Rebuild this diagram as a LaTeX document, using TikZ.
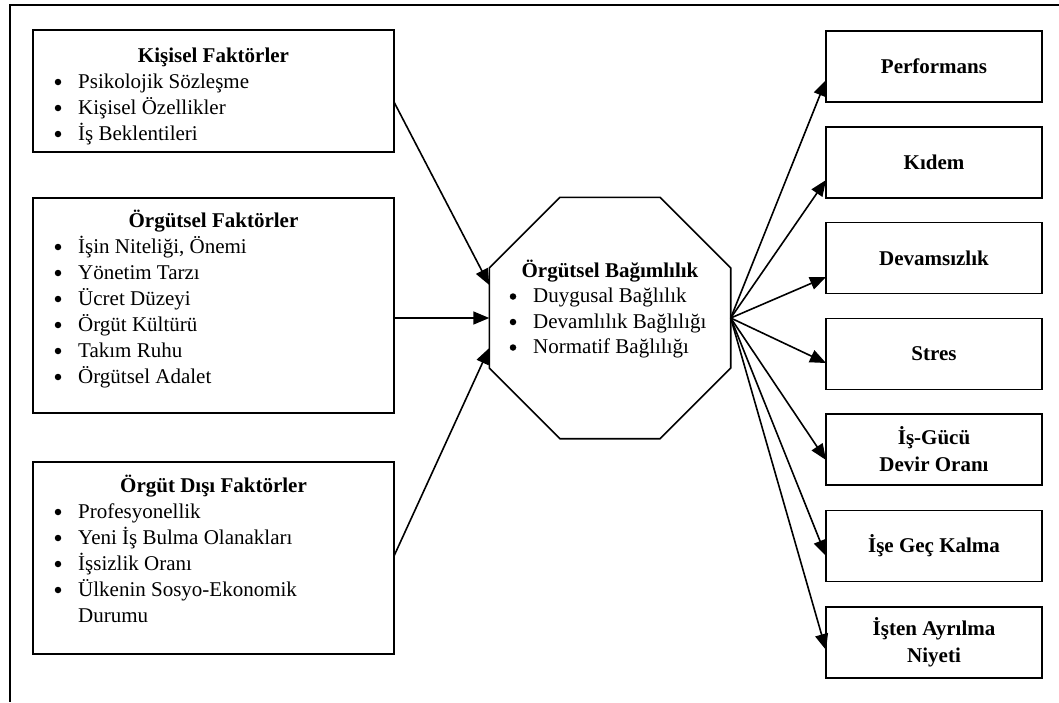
\documentclass[tikz,border=0pt]{standalone}
\usepackage{fontspec}
\setmainfont{Liberation Serif}
\usetikzlibrary{shapes.geometric,arrows.meta,calc}
\begin{document}
\begin{tikzpicture}[x=1pt,y=-1pt,
  every node/.style={font=\fontsize{21}{26}\selectfont},
  lbox/.style={draw,line width=1.6pt,minimum width=361pt,inner sep=0pt,outer sep=0pt},
  rbox/.style={draw,line width=1.6pt,minimum width=216pt,minimum height=71pt,inner sep=0pt,outer sep=0pt,align=center,font=\fontsize{21}{27}\selectfont\bfseries},
  ttl/.style={anchor=base,font=\fontsize{21}{26}\selectfont\bfseries,inner sep=0pt},
  itm/.style={anchor=base west,inner sep=0pt},
  bul/.style={circle,fill=black,minimum size=6.5pt,inner sep=0pt},
  arr/.style={line width=1.6pt,-{Triangle[length=16pt,width=13pt]}}]
\useasboundingbox (0,0) rectangle (1059,702);
\draw[line width=1.5pt] (1059,5) -- (10,5) -- (10,702);
% left boxes
\node[lbox,minimum height=122pt] (k1) at (213.5,91) {};
\node[lbox,minimum height=215pt] (k2) at (213.5,305.5) {};
\node[lbox,minimum height=192pt] (k3) at (213.5,558) {};
% box 1 text
\node[ttl] (k1t) at (213.5,62) {Kişisel Faktörler};
\foreach \y/\t [count=\i] in {88/Psikolojik Sözleşme,114/Kişisel Özellikler,140/İş Beklentileri}{
  \node[bul] (k1b\i) at (58,\y-6) {};
  \node[itm] (k1i\i) at (78,\y) {\t};}
% box 2 text
\node[ttl] (k2t) at (213.5,227) {Örgütsel Faktörler};
\foreach \y/\t [count=\i] in {253/{İşin Niteliği, Önemi},279/Yönetim Tarzı,305/Ücret Düzeyi,331/Örgüt Kültürü,357/Takım Ruhu,383/Örgütsel Adalet}{
  \node[bul] (k2b\i) at (58,\y-6) {};
  \node[itm] (k2i\i) at (78,\y) {\t};}
% box 3 text
\node[ttl] (k3t) at (213.5,492) {Örgüt Dışı Faktörler};
\foreach \y/\t [count=\i] in {518/Profesyonellik,544/Yeni İş Bulma Olanakları,570/İşsizlik Oranı,596/Ülkenin Sosyo-Ekonomik}{
  \node[bul] (k3b\i) at (58,\y-6) {};
  \node[itm] (k3i\i) at (78,\y) {\t};}
\node[itm] (k3i5) at (78,622) {Durumu};
% octagon
\node[draw,regular polygon,regular polygon sides=8,minimum size=261.3pt,inner sep=0pt,outer sep=0pt,line width=1.6pt] (oct) at (610,318) {};
\node[ttl] (octt) at (610,277) {Örgütsel Bağımlılık};
\foreach \y/\t [count=\i] in {302.5/Duygusal Bağlılık,328/Devamlılık Bağlılığı,353.5/Normatif Bağlılığı}{
  \node[bul] (ob\i) at (513,\y-6) {};
  \node[itm] (oi\i) at (533,\y) {\t};}
% right boxes
\node[rbox] (r1) at (934,66.5) {Performans};
\node[rbox] (r2) at (934,162.5) {Kıdem};
\node[rbox] (r3) at (934,258) {Devamsızlık};
\node[rbox] (r4) at (934,354) {Stres};
\node[rbox] (r5) at (934,449.5) {İş-Gücü\\Devir Oranı};
\node[rbox] (r6) at (934,546) {İşe Geç Kalma};
\node[rbox] (r7) at (934,642.5) {İşten Ayrılma\\Niyeti};
% left arrows
\draw[arr] ($(k1.east)+(0,11)$) -- ($(oct.west)+(0,-33)$);
\draw[arr] ($(k2.east)+(0,12.5)$) -- (oct.west);
\draw[arr] ($(k3.east)+(0,-2)$) -- ($(oct.west)+(0,30)$);
% right arrows
\draw[arr] (oct.east) -- ($(r1.west)+(0,13.5)$);
\draw[arr] (oct.east) -- ($(r2.west)+(0,17.5)$);
\draw[arr] (oct.east) -- ($(r3.west)+(0,19)$);
\draw[arr] (oct.east) -- ($(r4.west)+(0,9)$);
\draw[arr] (oct.east) -- ($(r5.west)+(0,10.5)$);
\draw[arr] (oct.east) -- ($(r6.west)+(0,10)$);
\draw[arr] (oct.east) -- ($(r7.west)+(0,7.5)$);
\end{tikzpicture}
\end{document}
